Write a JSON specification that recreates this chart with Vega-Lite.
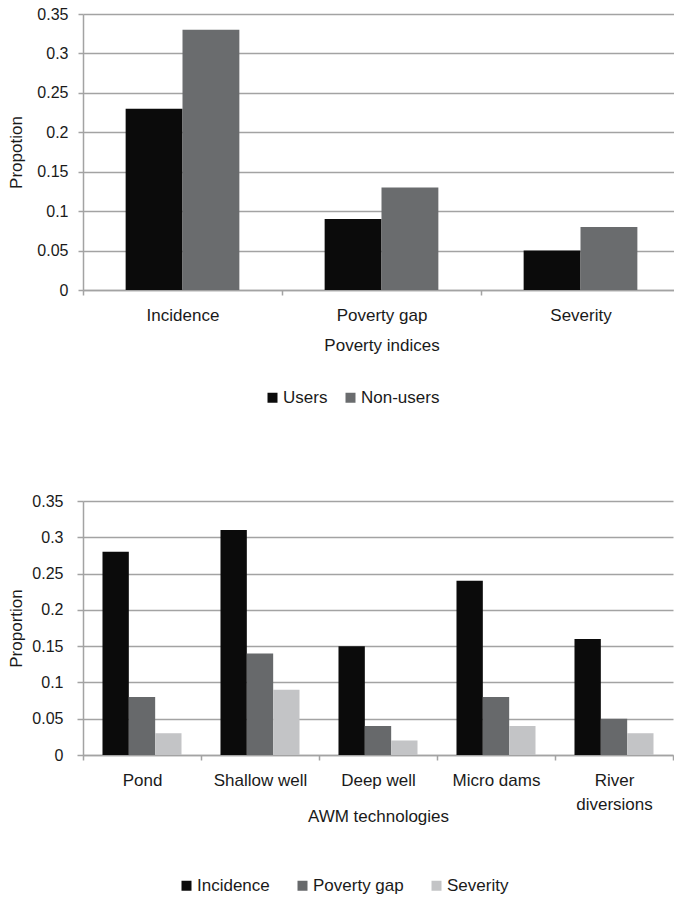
{
  "$schema": "https://vega.github.io/schema/vega-lite/v6.json",
  "background": "white",
  "padding": {"left": 7, "top": 6, "right": 0, "bottom": 0},
  "spacing": 87,
  "columns": 1,
  "config": {
    "font": "Liberation Sans",
    "view": {"stroke": null},
    "axis": {
      "labelFont": "Liberation Sans", "labelFontSize": 17, "labelColor": "#1a1a1a",
      "titleFont": "Liberation Sans", "titleFontSize": 17, "titleFontWeight": "normal", "titleColor": "#1a1a1a",
      "domainColor": "#a3a3a3", "tickColor": "#a3a3a3", "gridColor": "#a3a3a3",
      "domainWidth": 1.5, "tickWidth": 1.5, "gridWidth": 1.5
    },
    "axisY": {"labelFontSize": 16},
    "legend": {"labelFont": "Liberation Sans", "labelFontSize": 17, "labelColor": "#1a1a1a", "padding": 0}
  },
  "concat": [
    {
      "width": 597, "height": 276,
      "data": {"values": [
        {"index": "Incidence", "group": "Users", "value": 0.23},
        {"index": "Incidence", "group": "Non-users", "value": 0.33},
        {"index": "Poverty gap", "group": "Users", "value": 0.09},
        {"index": "Poverty gap", "group": "Non-users", "value": 0.13},
        {"index": "Severity", "group": "Users", "value": 0.05},
        {"index": "Severity", "group": "Non-users", "value": 0.08}
      ]},
      "mark": {"type": "bar"},
      "encoding": {
        "x": {"field": "index", "type": "nominal", "sort": ["Incidence", "Poverty gap", "Severity"],
          "scale": {"paddingInner": 0, "paddingOuter": 0},
          "axis": {"title": "Poverty indices", "labelAngle": 0, "tickBand": "extent", "tickSize": 5, "labelPadding": 12, "titlePadding": 14}},
        "xOffset": {"field": "group", "type": "nominal", "sort": ["Users", "Non-users"],
          "scale": {"paddingInner": 0, "paddingOuter": 0.75}},
        "y": {"field": "value", "type": "quantitative",
          "scale": {"domain": [0, 0.35], "nice": false},
          "axis": {"title": "Propotion", "values": [0, 0.05, 0.1, 0.15, 0.2, 0.25, 0.3, 0.35], "format": "~g", "grid": true, "tickSize": 5, "labelPadding": 10, "titlePadding": 11}},
        "color": {"field": "group", "type": "nominal",
          "scale": {"domain": ["Users", "Non-users"], "range": ["#0b0b0b", "#6a6c6e"]},
          "legend": {"title": null, "orient": "none", "direction": "horizontal", "legendX": 181, "legendY": 375, "symbolType": "square", "symbolSize": 100, "symbolStrokeWidth": 0, "columnPadding": 14, "labelOffset": 2}}
      }
    },
    {
      "width": 590, "height": 254,
      "data": {"values": [
        {"tech": "Pond", "index": "Incidence", "value": 0.28},
        {"tech": "Pond", "index": "Poverty gap", "value": 0.08},
        {"tech": "Pond", "index": "Severity", "value": 0.03},
        {"tech": "Shallow well", "index": "Incidence", "value": 0.31},
        {"tech": "Shallow well", "index": "Poverty gap", "value": 0.14},
        {"tech": "Shallow well", "index": "Severity", "value": 0.09},
        {"tech": "Deep well", "index": "Incidence", "value": 0.15},
        {"tech": "Deep well", "index": "Poverty gap", "value": 0.04},
        {"tech": "Deep well", "index": "Severity", "value": 0.02},
        {"tech": "Micro dams", "index": "Incidence", "value": 0.24},
        {"tech": "Micro dams", "index": "Poverty gap", "value": 0.08},
        {"tech": "Micro dams", "index": "Severity", "value": 0.04},
        {"tech": "River diversions", "index": "Incidence", "value": 0.16},
        {"tech": "River diversions", "index": "Poverty gap", "value": 0.05},
        {"tech": "River diversions", "index": "Severity", "value": 0.03}
      ]},
      "mark": {"type": "bar"},
      "encoding": {
        "x": {"field": "tech", "type": "nominal", "sort": ["Pond", "Shallow well", "Deep well", "Micro dams", "River diversions"],
          "scale": {"paddingInner": 0, "paddingOuter": 0},
          "axis": {"title": "AWM technologies", "labelAngle": 0, "tickBand": "extent", "tickSize": 5, "labelPadding": 12, "titlePadding": -4, "labelLineHeight": 24,
            "labelExpr": "datum.value == 'River diversions' ? ['River', 'diversions'] : datum.label"}},
        "xOffset": {"field": "index", "type": "nominal", "sort": ["Incidence", "Poverty gap", "Severity"],
          "scale": {"paddingInner": 0, "paddingOuter": 0.74}},
        "y": {"field": "value", "type": "quantitative",
          "scale": {"domain": [0, 0.35], "nice": false},
          "axis": {"title": "Proportion", "values": [0, 0.05, 0.1, 0.15, 0.2, 0.25, 0.3, 0.35], "format": "~g", "grid": true, "tickSize": 6, "labelPadding": 14, "titlePadding": 6}},
        "color": {"field": "index", "type": "nominal",
          "scale": {"domain": ["Incidence", "Poverty gap", "Severity"], "range": ["#0b0b0b", "#67696b", "#c3c4c6"]},
          "legend": {"title": null, "orient": "none", "direction": "horizontal", "legendX": 95, "legendY": 376, "symbolType": "square", "symbolSize": 100, "symbolStrokeWidth": 0, "columnPadding": 24, "labelOffset": 2}}
      }
    }
  ],
  "resolve": {"scale": {"x": "independent", "y": "independent", "xOffset": "independent", "color": "independent"}, "axis": {"x": "independent", "y": "independent"}, "legend": {"color": "independent"}}
}
